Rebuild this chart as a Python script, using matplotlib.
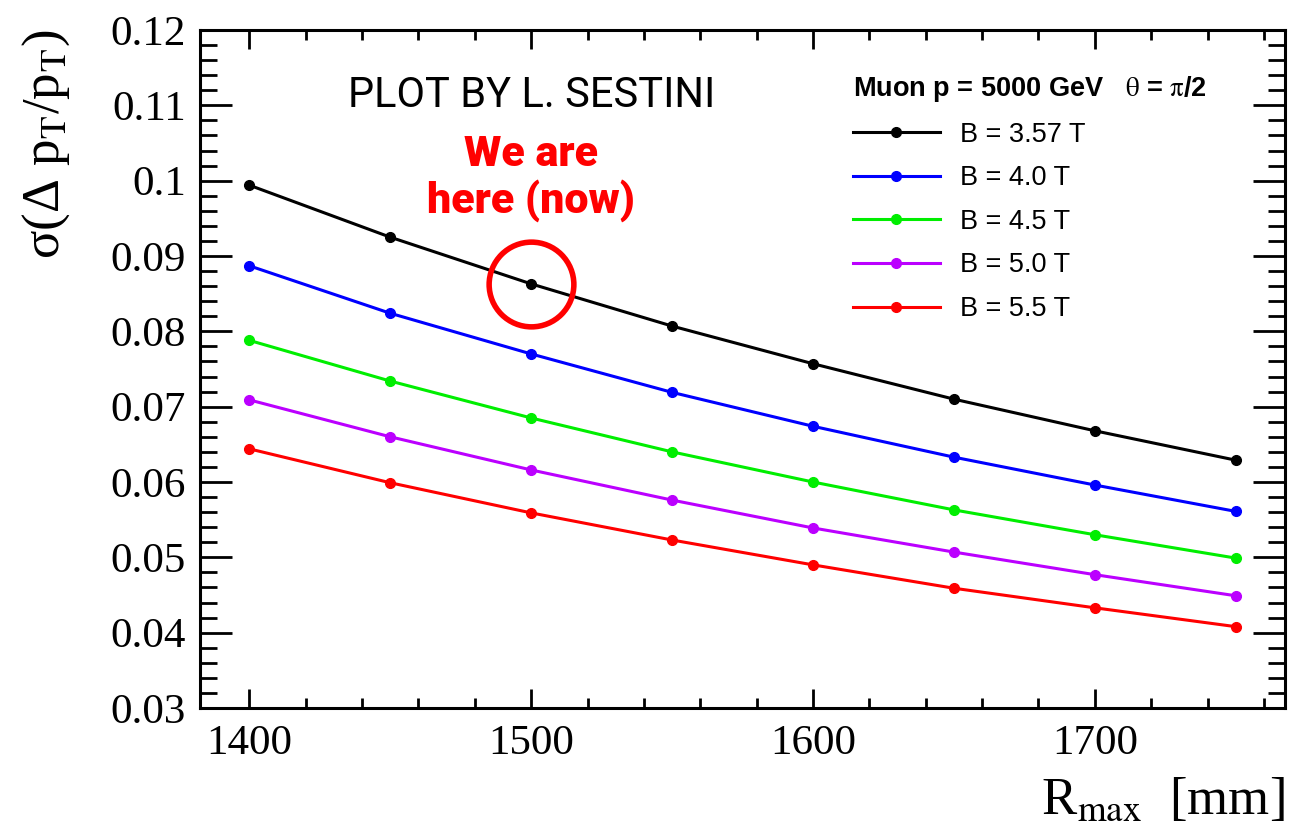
import numpy as np
import matplotlib
matplotlib.use('Agg')
import matplotlib.pyplot as plt
from matplotlib.ticker import MultipleLocator

plt.rcParams['font.family'] = ['Liberation Serif', 'DejaVu Serif']
plt.rcParams['mathtext.fontset'] = 'stix'

# R_max scan points [mm]
r_max = [1400, 1450, 1500, 1550, 1600, 1650, 1700, 1750]

# sigma(pT)/pT for each solenoid field
res_357 = [0.0994, 0.0925, 0.0863, 0.0807, 0.0757, 0.0710, 0.0668, 0.0629]
res_40 = [0.0887, 0.0824, 0.0770, 0.0719, 0.0674, 0.0633, 0.0596, 0.0561]
res_45 = [0.0788, 0.0734, 0.0685, 0.0640, 0.0600, 0.0563, 0.0530, 0.0499]
res_50 = [0.0709, 0.0660, 0.0616, 0.0576, 0.0539, 0.0507, 0.0477, 0.0449]
res_55 = [0.0644, 0.0599, 0.0559, 0.0523, 0.0490, 0.0459, 0.0433, 0.0408]

series = [res_357, res_40, res_45, res_50, res_55]
labels = ['B = 3.57 T', 'B = 4.0 T', 'B = 4.5 T', 'B = 5.0 T', 'B = 5.5 T']
colors = ['black', '#0000ff', '#00ee00', '#bb00ff', '#ff0000']

# current configuration
now_idx = 2

fig = plt.figure(figsize=(12.91, 8.31), dpi=100)
ax = fig.add_axes([200/1291, 1 - 708/831, 1085/1291, 678/831])

for y, lab, c in zip(series, labels, colors):
    ax.plot(r_max, y, '-o', color=c, lw=2.2, ms=7, label=lab)

# circle around the present point
ax.plot(r_max[now_idx], res_357[now_idx], 'o', ms=61, mfc='none',
        mec='#ff0000', mew=4)

ax.set_xlim(1382.5, 1767.5)
ax.set_ylim(0.03, 0.12)
ax.xaxis.set_major_locator(MultipleLocator(100))
ax.xaxis.set_minor_locator(MultipleLocator(20))
ax.yaxis.set_minor_locator(MultipleLocator(0.002))
ax.set_yticks(np.arange(0.03, 0.1201, 0.01))
ax.set_yticklabels(['0.03', '0.04', '0.05', '0.06', '0.07', '0.08', '0.09',
                    '0.1', '0.11', '0.12'])

for s in ax.spines.values():
    s.set_linewidth(2.2)
ax.tick_params(axis='both', which='both', direction='in', width=2.0,
               top=True, right=True, labelsize=31)
ax.tick_params(axis='x', which='major', length=14, pad=12)
ax.tick_params(axis='x', which='minor', length=7)
ax.tick_params(axis='y', which='major', length=23, pad=10)
ax.tick_params(axis='y', which='minor', length=12)

ax.set_xlabel(r'R$_{\mathrm{max}}$  [mm]', fontsize=38, loc='right',
              labelpad=10)
ax.set_ylabel(r'σ(Δ p$_{\mathrm{T}}$/p$_{\mathrm{T}}$)', fontsize=38,
              loc='top', labelpad=28)

fig.text(348/1291, 1 - 107/831, 'PLOT BY L. SESTINI',
         family=['Roboto'], fontsize=30, va='baseline', ha='left')

fig.text(531/1291, 1 - 178/831, 'We are\nhere (now)', color='#ff0000',
         family='Roboto', weight='black', fontsize=31,
         ha='center', va='center', linespacing=1.15)

leg = ax.legend(loc='upper left', bbox_to_anchor=(853/1291, 1 - 74/831),
                bbox_transform=fig.transFigure, frameon=False,
                title=r'Muon p = 5000 GeV   $\mathrm{\theta}$ = $\mathrm{\pi}$/2',
                title_fontproperties={'family': 'Liberation Sans',
                                      'weight': 'bold', 'size': 19.5},
                prop={'family': 'Liberation Sans', 'size': 19.5},
                handlelength=3.2, handletextpad=0.75, labelspacing=0.65,
                borderpad=0, borderaxespad=0, alignment='left')

fig.savefig('out.png', dpi=100)
